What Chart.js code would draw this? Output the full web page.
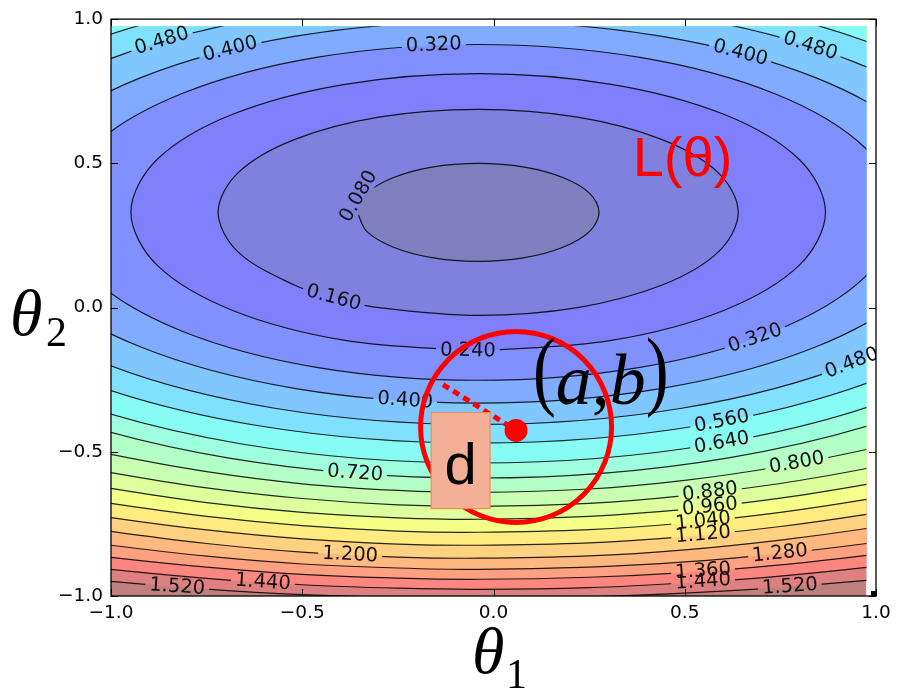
<!DOCTYPE html>
<html>
<head>
<meta charset="utf-8">
<script src="https://cdn.jsdelivr.net/npm/chart.js@4.4.1/dist/chart.umd.min.js"></script>
<style>
html,body{margin:0;padding:0;background:#ffffff;}
canvas{display:block;}
</style>
</head>
<body>
<canvas id="chart" width="903" height="689"></canvas>
<script>
// ---------------- data ----------------
const levels = [0.08,0.16,0.24,0.32,0.40,0.48,0.56,0.64,0.72,0.80,0.88,0.96,1.04,1.12,1.20,1.28,1.36,1.44,1.52];
const gridMin = -1.0, gridMax = 0.975;   // extent of the filled field
const outside = 1.3;                     // closing vertices lying outside the field

// closed / large contours as [theta1, theta2] points
const c008 = [[-0.356,0.330],[-0.332,0.265],[-0.263,0.210],[-0.161,0.173],[-0.040,0.160],[0.081,0.173],[0.183,0.210],[0.252,0.265],[0.276,0.330],[0.252,0.395],[0.183,0.450],[0.081,0.487],[-0.040,0.500],[-0.161,0.487],[-0.263,0.450],[-0.332,0.395],[-0.356,0.330]];
const c016 = [[-0.418,0.033],[-0.300,0.000],[-0.040,-0.027],[0.220,0.000],[0.441,0.078],[0.588,0.193],[0.640,0.330],[0.588,0.467],[0.441,0.582],[0.220,0.660],[-0.040,0.687],[-0.300,0.660],[-0.521,0.582],[-0.668,0.467],[-0.720,0.330],[-0.668,0.193],[-0.521,0.078],[-0.418,0.033]];
const c024 = [[-0.040,-0.151],[0.308,-0.114],[0.602,-0.010],[0.799,0.146],[0.868,0.330],[0.799,0.514],[0.602,0.670],[0.308,0.774],[-0.040,0.811],[-0.388,0.774],[-0.682,0.670],[-0.879,0.514],[-0.948,0.330],[-0.879,0.146],[-0.682,-0.010],[-0.388,-0.114],[-0.040,-0.151]];
const c032 = [[1.055,0.330],[0.972,0.553],[0.734,0.742],[0.379,0.868],[-0.040,0.912],[-0.459,0.868],[-0.814,0.742],[-1.052,0.553],[-1.135,0.330],[-1.052,0.107],[-0.814,-0.082],[-0.459,-0.208],[-0.040,-0.252],[0.379,-0.208],[0.734,-0.082],[0.972,0.107],[1.055,0.330]];
const c040 = [[1.207,0.330],[1.112,0.583],[0.842,0.797],[0.437,0.941],[-0.040,0.991],[-0.517,0.941],[-0.922,0.797],[-1.192,0.583],[-1.287,0.330],[-1.192,0.077],[-0.922,-0.137],[-0.517,-0.281],[-0.040,-0.331],[0.437,-0.281],[0.842,-0.137],[1.112,0.077],[1.207,0.330]];
const c048 = [[1.351,0.330],[1.245,0.612],[0.944,0.851],[0.492,1.011],[-0.040,1.067],[-0.572,1.011],[-1.024,0.851],[-1.325,0.612],[-1.431,0.330],[-1.325,0.049],[-1.024,-0.190],[-0.572,-0.349],[-0.040,-0.405],[0.492,-0.349],[0.944,-0.190],[1.245,0.049],[1.351,0.330]];
const c056 = [[1.471,0.330],[1.356,0.636],[1.028,0.896],[0.538,1.069],[-0.040,1.130],[-0.618,1.069],[-1.108,0.896],[-1.436,0.636],[-1.551,0.330],[-1.436,0.024],[-1.108,-0.236],[-0.618,-0.409],[-0.040,-0.470],[0.538,-0.409],[1.028,-0.236],[1.356,0.024],[1.471,0.330]];
const c064 = [[1.576,0.330],[1.453,0.657],[1.103,0.935],[0.578,1.120],[-0.040,1.185],[-0.658,1.120],[-1.183,0.935],[-1.533,0.657],[-1.656,0.330],[-1.533,-0.003],[-1.183,-0.285],[-0.658,-0.473],[-0.040,-0.539],[0.578,-0.473],[1.103,-0.285],[1.453,-0.003],[1.576,0.330]];
const c072 = [[1.672,0.330],[1.542,0.677],[1.171,0.971],[0.615,1.168],[-0.040,1.237],[-0.695,1.168],[-1.251,0.971],[-1.622,0.677],[-1.752,0.330],[-1.622,-0.023],[-1.251,-0.321],[-0.695,-0.521],[-0.040,-0.591],[0.615,-0.521],[1.171,-0.321],[1.542,-0.023],[1.672,0.330]];

// lower contours: theta2 at these theta1 positions
const branchTheta1 = [-1.15,-1.0,-0.75,-0.5,-0.25,-0.04,0.25,0.5,0.75,0.975,1.15];
const b080 = [-0.464,-0.509,-0.569,-0.611,-0.634,-0.641,-0.629,-0.599,-0.551,-0.492,-0.436];
const b088 = [-0.532,-0.572,-0.625,-0.662,-0.684,-0.689,-0.679,-0.652,-0.610,-0.558,-0.508];
const b096 = [-0.590,-0.627,-0.676,-0.710,-0.729,-0.734,-0.724,-0.700,-0.661,-0.613,-0.568];
const b104 = [-0.645,-0.679,-0.724,-0.756,-0.775,-0.779,-0.770,-0.747,-0.710,-0.665,-0.622];
const b112 = [-0.695,-0.728,-0.771,-0.802,-0.820,-0.824,-0.816,-0.794,-0.759,-0.717,-0.677];
const b120 = [-0.744,-0.776,-0.818,-0.848,-0.865,-0.869,-0.861,-0.840,-0.806,-0.766,-0.726];
const b128 = [-0.796,-0.824,-0.862,-0.889,-0.903,-0.908,-0.900,-0.882,-0.853,-0.818,-0.784];
const b136 = [-0.840,-0.866,-0.900,-0.925,-0.938,-0.942,-0.935,-0.919,-0.892,-0.859,-0.828];
const b144 = [-0.884,-0.908,-0.939,-0.961,-0.973,-0.977,-0.971,-0.955,-0.931,-0.901,-0.872];
const b152 = [-0.929,-0.949,-0.976,-0.995,-1.005,-1.008,-1.003,-0.990,-0.970,-0.946,-0.922];

// inline contour labels
const labelText   = ['0.080','0.160','0.240','0.320','0.320','0.400','0.400','0.400','0.480','0.480','0.480','0.560','0.640','0.720','0.800','0.880','0.960','1.040','1.120','1.200','1.280','1.360','1.440','1.440','1.520','1.520'];
const labelTheta1 = [-0.352,-0.418,-0.067,-0.156,0.684,-0.688,0.645,-0.231,-0.867,0.828,0.937,0.597,0.597,-0.362,0.793,0.566,0.566,0.548,0.548,-0.375,0.749,0.548,0.548,-0.603,0.775,-0.827];
const labelTheta2 = [0.385,0.033,-0.150,0.909,-0.107,0.895,0.882,-0.323,0.923,0.906,-0.193,-0.395,-0.469,-0.575,-0.539,-0.640,-0.691,-0.741,-0.788,-0.858,-0.853,-0.914,-0.951,-0.953,-0.968,-0.969];
const labelAngle  = [-60,15,1,-2,-19,-14,15,4,-17,18,-21,-11,-10,4,-10,-7,-6,-6,-5,3,-6,-4,-4,4,-4,4];

// axis ticks
const xTicks = [-1.0,-0.5,0.0,0.5,1.0];
const yTicks = [-1.0,-0.5,0.0,0.5,1.0];

// annotation positions (data units)
const pointAB = [0.059,-0.426];
const circleCenter = [0.059,-0.414];
const dottedStart = [-0.132,-0.267];

// ---------------- styles ----------------
const bandColors = ['rgb(128,128,191)','rgb(128,128,222)','rgb(128,128,252)','rgb(128,145,255)','rgb(128,171,255)','rgb(128,198,255)','rgb(128,225,255)','rgb(135,252,244)','rgb(157,255,222)','rgb(179,255,200)','rgb(200,255,179)','rgb(222,255,157)','rgb(244,255,135)','rgb(255,235,128)','rgb(255,209,128)','rgb(255,185,128)','rgb(255,160,128)','rgb(252,135,128)','rgb(222,128,128)','rgb(191,128,128)'];
const lineColor = 'rgba(0,0,0,0.85)';
const labelFont = '19.5px "DejaVu Sans"';
const RED = '#ff0000';

Chart.defaults.font.family = '"DejaVu Sans"';

const ellipsePaths = [c008,c016,c024,c032,c040,c048,c056,c064,c072];
const branchPaths = [b080,b088,b096,b104,b112,b120,b128,b136,b144,b152];
const levelIndexOf = t => Math.round(parseFloat(t) / 0.08) - 1;

const datasets = [];
datasets.push({kind:'bg', data:[{x:gridMin,y:gridMin},{x:gridMax,y:gridMin},{x:gridMax,y:gridMax},{x:gridMin,y:gridMax}],
  showLine:true, fill:'shape', backgroundColor:bandColors[19], borderWidth:0, pointRadius:0, tension:0});
for (let j = levels.length - 1; j >= 0; j--) {
  let pts;
  if (j < ellipsePaths.length) {
    pts = ellipsePaths[j].map(p => ({x:p[0], y:p[1]}));
  } else {
    const b = branchPaths[j - ellipsePaths.length];
    pts = branchTheta1.map((t,i) => ({x:t, y:b[i]}));
    pts.push({x:branchTheta1[branchTheta1.length-1], y:outside});
    pts.push({x:branchTheta1[0], y:outside});
  }
  datasets.push({kind:'contour', levelIdx:j, data:pts, showLine:true, fill:'shape',
    backgroundColor:bandColors[j], borderColor:lineColor, borderWidth:1.2,
    pointRadius:0, tension:0.34, capBezierPoints:false});
}
datasets.push({kind:'ann', data:[{x:dottedStart[0],y:dottedStart[1]},{x:pointAB[0],y:pointAB[1]}],
  showLine:true, fill:false, borderColor:RED, borderWidth:5, borderDash:[7,5], borderCapStyle:'butt', pointRadius:0, tension:0});
datasets.push({kind:'ann', data:[{x:circleCenter[0],y:circleCenter[1]}], showLine:false,
  pointRadius:95.5, pointBorderWidth:5, pointBorderColor:RED, pointBackgroundColor:'rgba(0,0,0,0)'});
datasets.push({kind:'ann', data:[{x:pointAB[0],y:pointAB[1]}], showLine:false,
  pointRadius:11.5, pointBorderWidth:0, pointBackgroundColor:RED});
datasets.forEach((d,i) => { d.order = datasets.length - i; });

const DEG = Math.PI / 180;
function labelGeom(chart, i) {
  const {x, y} = chart.scales;
  return {cx:x.getPixelForValue(labelTheta1[i]), cy:y.getPixelForValue(labelTheta2[i]), a:labelAngle[i]*DEG};
}
function drawLabels(chart) {
  const {ctx, chartArea:ca} = chart;
  ctx.save();
  ctx.beginPath(); ctx.rect(ca.left, ca.top, ca.right-ca.left, ca.bottom-ca.top); ctx.clip();
  ctx.font = labelFont; ctx.fillStyle = '#111'; ctx.textAlign = 'center'; ctx.textBaseline = 'middle';
  for (let i = 0; i < labelText.length; i++) {
    const g = labelGeom(chart, i);
    ctx.save(); ctx.translate(g.cx, g.cy); ctx.rotate(g.a); ctx.fillText(labelText[i], 0, 0); ctx.restore();
  }
  ctx.restore();
}
function drawAnnotations(chart) {
  const {ctx} = chart; const {x, y} = chart.scales;
  // box "d"
  const bx1 = x.getPixelForValue(-0.163), bx2 = x.getPixelForValue(-0.009);
  const by1 = y.getPixelForValue(-0.364), by2 = y.getPixelForValue(-0.697);
  ctx.save();
  ctx.fillStyle = 'rgb(244,176,150)';
  ctx.fillRect(bx1, by1, bx2-bx1, by2-by1);
  ctx.strokeStyle = 'rgb(236,140,90)'; ctx.lineWidth = 1.2;
  ctx.strokeRect(bx1, by1, bx2-bx1, by2-by1);
  ctx.fillStyle = '#000'; ctx.font = '58px "Liberation Sans"'; ctx.textAlign = 'center'; ctx.textBaseline = 'alphabetic';
  ctx.fillText('d', (bx1+bx2)/2, by1 + 71);
  // L(θ)
  ctx.fillStyle = RED; ctx.font = '56px "Liberation Sans"'; ctx.textAlign = 'left';
  ctx.fillText('L(θ)', x.getPixelForValue(0.364), y.getPixelForValue(0.457));
  // (a,b)
  ctx.fillStyle = '#000';
  let xx = x.getPixelForValue(0.103);
  const base = y.getPixelForValue(-0.336);
  const parts = [['(', '88px "Liberation Serif"', -5, 0.78], ['a', 'italic 72px "Liberation Serif"', 0, 1], [',', '72px "Liberation Serif"', 0, 1], ['b', 'italic 72px "Liberation Serif"', 0, 1], [')', '88px "Liberation Serif"', -5, 0.78]];
  for (const [t, f, dy, sx] of parts) {
    ctx.font = f;
    ctx.save(); ctx.translate(xx, base + dy); ctx.scale(sx, 1); ctx.fillText(t, 0, 0); ctx.restore();
    xx += ctx.measureText(t).width * sx;
  }
  ctx.restore();
}
function drawFrame(chart) {
  const {ctx, chartArea:ca} = chart; const {x, y} = chart.scales;
  ctx.save();
  ctx.strokeStyle = '#000'; ctx.lineWidth = 1;
  ctx.beginPath();
  for (const v of xTicks) {
    const p = Math.round(x.getPixelForValue(v)) + 0.5;
    ctx.moveTo(p, ca.bottom); ctx.lineTo(p, ca.bottom - 7);
    ctx.moveTo(p, ca.top); ctx.lineTo(p, ca.top + 7);
  }
  for (const v of yTicks) {
    const p = Math.round(y.getPixelForValue(v)) + 0.5;
    ctx.moveTo(ca.left, p); ctx.lineTo(ca.left + 7, p);
    ctx.moveTo(ca.right, p); ctx.lineTo(ca.right - 7, p);
  }
  ctx.stroke();
  ctx.lineWidth = 1.3;
  ctx.strokeRect(ca.left, ca.top, ca.right - ca.left, ca.bottom - ca.top);
  ctx.fillStyle = '#000';
  ctx.fillRect(ca.right - 5, ca.bottom - 5, 5, 5);
  // axis titles
  ctx.textAlign = 'left'; ctx.textBaseline = 'alphabetic';
  ctx.font = 'italic 66px "Liberation Serif"';
  ctx.fillText('θ', 10, 335);
  ctx.font = '42px "Liberation Serif"';
  ctx.fillText('2', 46, 346);
  ctx.font = 'italic 66px "Liberation Serif"';
  ctx.fillText('θ', 472, 673);
  ctx.font = '42px "Liberation Serif"';
  ctx.fillText('1', 506, 688);
  ctx.restore();
}

const decor = {
  id: 'decor',
  beforeDatasetsDraw(chart) {
    const {ctx} = chart; const {x, y} = chart.scales;
    const l = x.getPixelForValue(gridMin), r = x.getPixelForValue(gridMax);
    const t = y.getPixelForValue(gridMax), b = y.getPixelForValue(gridMin);
    ctx.save(); ctx.beginPath(); ctx.rect(l, t, r - l, b - t); ctx.clip();
    chart.$gridClip = true;
  },
  beforeDatasetDraw(chart, args) {
    const ds = chart.data.datasets[args.index];
    if (ds.kind !== 'contour') return;
    const {ctx} = chart;
    ctx.save();
    ctx.font = labelFont;
    ctx.beginPath();
    ctx.rect(0, 0, chart.width, chart.height);
    for (let i = 0; i < labelText.length; i++) {
      if (levelIndexOf(labelText[i]) !== ds.levelIdx) continue;
      const g = labelGeom(chart, i);
      const hw = ctx.measureText(labelText[i]).width / 2 + 4, hh = 9;
      const c = Math.cos(g.a), s = Math.sin(g.a);
      const pts = [[-hw,-hh],[hw,-hh],[hw,hh],[-hw,hh]].map(([u,v]) => [g.cx + u*c - v*s, g.cy + u*s + v*c]);
      ctx.moveTo(pts[0][0], pts[0][1]);
      for (let k = 1; k < 4; k++) ctx.lineTo(pts[k][0], pts[k][1]);
      ctx.closePath();
    }
    ctx.clip('evenodd');
  },
  afterDatasetDraw(chart, args) {
    const ds = chart.data.datasets[args.index];
    if (ds.kind !== 'contour') return;
    const {ctx} = chart;
    ctx.restore();
    if (ds.levelIdx === 0) {
      if (chart.$gridClip) { ctx.restore(); chart.$gridClip = false; }
      drawLabels(chart);
    }
  },
  afterDatasetsDraw(chart) {
    if (chart.$gridClip) { chart.ctx.restore(); chart.$gridClip = false; }
    drawAnnotations(chart);
  },
  afterDraw(chart) { drawFrame(chart); }
};

const fmt = v => (v < 0 ? '\u2212' : '') + Math.abs(v).toFixed(1);
const tickFont = {family: '"DejaVu Sans"', size: 18.5};

new Chart(document.getElementById('chart'), {
  type: 'scatter',
  data: {datasets},
  options: {
    responsive: false,
    animation: false,
    events: [],
    layout: {autoPadding: false, padding: {top: 18, right: 27, left: 0, bottom: 0}},
    elements: {line: {capBezierPoints: false}},
    plugins: {legend: {display: false}, tooltip: {enabled: false}},
    scales: {
      x: {type: 'linear', min: -1, max: 1,
        afterBuildTicks: s => { s.ticks = xTicks.map(v => ({value: v})); },
        afterFit: s => { s.height = 93; },
        ticks: {font: tickFont, color: '#000', padding: 6, maxRotation: 0, autoSkip: false, callback: fmt},
        grid: {display: false, drawTicks: false}, border: {display: false}},
      y: {type: 'linear', min: -1, max: 1,
        afterBuildTicks: s => { s.ticks = yTicks.map(v => ({value: v})); },
        afterFit: s => { s.width = 111; },
        ticks: {font: tickFont, color: '#000', padding: 8, autoSkip: false, callback: fmt},
        grid: {display: false, drawTicks: false}, border: {display: false}}
    }
  },
  plugins: [decor]
});
</script>
</body>
</html>
